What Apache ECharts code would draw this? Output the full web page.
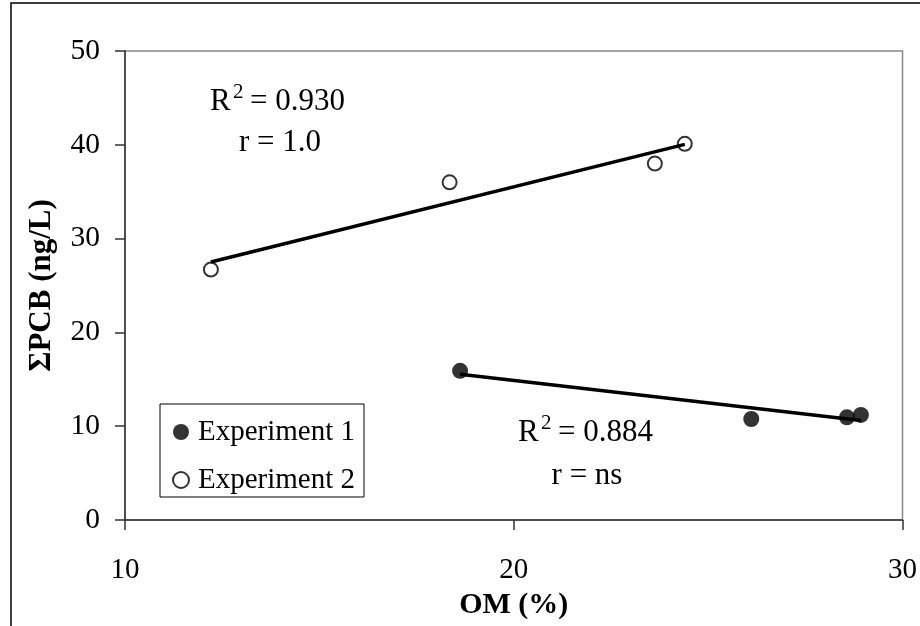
<!DOCTYPE html>
<html>
<head>
<meta charset="utf-8">
<script src="https://cdn.jsdelivr.net/npm/echarts@6/dist/echarts.min.js"></script>
<style>
  html, body { margin: 0; padding: 0; background: #fff; }
  #chart { width: 920px; height: 626px; }
</style>
</head>
<body>
<div id="chart"></div>
<script>
// Organic matter (%) vs total PCB (ng/L) for two experiments
const xTicks = [10, 20, 30];
const yTicks = [0, 10, 20, 30, 40, 50];

const exp1OM  = [18.62, 26.11, 28.57, 28.93];
const exp1PCB = [15.9, 10.77, 10.95, 11.2];

const exp2OM  = [12.21, 18.35, 23.63, 24.40];
const exp2PCB = [26.7, 36.0, 38.0, 40.1];

// Fitted trend lines, start and end points
const trend1OM  = [18.62, 28.93];
const trend1PCB = [15.55, 10.6];
const trend2OM  = [12.21, 24.40];
const trend2PCB = [27.5, 40.05];

const pairs = (xs, ys) => xs.map((x, i) => [x, ys[i]]);

const SERIF = '"Liberation Serif", "Times New Roman", serif';
const axisColor = '#333';

// "R² = value" built from three pieces: base letter, raised 2, and the rest.
// (x, baseline) is where the R starts; text is placed by its vertical middle.
function r2Label(x, baseline, value) {
  const main = 31, sup = 21;
  const mid = s => 0.3375 * s;   // baseline offset below the middle of the em box
  return {
    type: 'group', silent: true,
    children: [
      { type: 'text', x: x, y: baseline - mid(main),
        style: { text: 'R', align: 'left', verticalAlign: 'middle', font: main + 'px ' + SERIF, fill: '#000' } },
      { type: 'text', x: x + 23, y: baseline - 12 - mid(sup),
        style: { text: '2', align: 'left', verticalAlign: 'middle', font: sup + 'px ' + SERIF, fill: '#000' } },
      { type: 'text', x: x + 40, y: baseline - mid(main),
        style: { text: '= ' + value, align: 'left', verticalAlign: 'middle', font: main + 'px ' + SERIF, fill: '#000' } }
    ]
  };
}

const chart = echarts.init(document.getElementById('chart'), null, { renderer: 'canvas' });

chart.setOption({
  backgroundColor: '#fff',
  animation: false,
  textStyle: { fontFamily: SERIF },
  grid: {
    left: 125, right: 15, top: 51, bottom: 106,
    show: true, borderColor: '#888', borderWidth: 1.5
  },
  xAxis: {
    type: 'value',
    min: xTicks[0], max: xTicks[xTicks.length - 1], interval: 10,
    name: 'OM (%)',
    nameLocation: 'middle',
    nameGap: 64,
    nameTextStyle: { fontFamily: SERIF, fontSize: 30, fontWeight: 'bold', color: '#000' },
    axisLine: { show: true, lineStyle: { color: axisColor, width: 1.5 } },
    axisTick: { show: true, inside: false, length: 10, lineStyle: { color: axisColor, width: 1.5 } },
    axisLabel: { margin: 36, fontFamily: SERIF, fontSize: 29, color: '#000' },
    splitLine: { show: false }
  },
  yAxis: {
    type: 'value',
    min: yTicks[0], max: yTicks[yTicks.length - 1], interval: 10,
    name: 'ΣPCB (ng/L)',
    nameLocation: 'middle',
    nameGap: 68,
    nameRotate: 90,
    nameTextStyle: { fontFamily: SERIF, fontSize: 31, fontWeight: 'bold', color: '#000' },
    axisLine: { show: true, lineStyle: { color: axisColor, width: 1.5 } },
    axisTick: { show: true, inside: false, length: 10, lineStyle: { color: axisColor, width: 1.5 } },
    axisLabel: { margin: 25, fontFamily: SERIF, fontSize: 29.5, color: '#000' },
    splitLine: { show: false }
  },
  legend: {
    show: true,
    orient: 'vertical',
    left: 172,
    top: 417,
    itemWidth: 16,
    itemHeight: 16,
    itemGap: 18,
    padding: 0,
    data: ['Experiment 1', 'Experiment 2'],
    textStyle: { fontFamily: SERIF, fontSize: 29, lineHeight: 30, color: '#000', padding: [0, 0, 0, 4] }
  },
  graphic: [
    // outer frame around the figure
    {
      type: 'rect', silent: true, z: -10,
      shape: { x: 11, y: 3, width: 1000, height: 1000 },
      style: { fill: 'transparent', stroke: '#000', lineWidth: 1.5 }
    },
    // legend box
    {
      type: 'rect', silent: true,
      shape: { x: 160, y: 404, width: 204, height: 93 },
      style: { fill: 'transparent', stroke: '#000', lineWidth: 1 }
    },
    r2Label(210, 112, '0.930'),
    {
      type: 'text', silent: true, x: 280, y: 143,
      style: { text: 'r = 1.0', align: 'center', verticalAlign: 'middle', font: '31px ' + SERIF, fill: '#000' }
    },
    r2Label(518, 443, '0.884'),
    {
      type: 'text', silent: true, x: 587, y: 476,
      style: { text: 'r = ns', align: 'center', verticalAlign: 'middle', font: '31px ' + SERIF, fill: '#000' }
    }
  ],
  series: [
    {
      name: 'Experiment 1',
      type: 'scatter',
      data: pairs(exp1OM, exp1PCB),
      symbol: 'circle',
      symbolSize: 16,
      itemStyle: { color: '#000', borderColor: '#000', borderWidth: 0 },
      z: 2
    },
    {
      name: 'Experiment 2',
      type: 'scatter',
      data: pairs(exp2OM, exp2PCB),
      symbol: 'circle',
      symbolSize: 14,
      itemStyle: { color: '#fff', borderColor: '#000', borderWidth: 2 },
      z: 2
    },
    {
      name: 'trend1',
      type: 'line',
      data: pairs(trend1OM, trend1PCB),
      showSymbol: false,
      symbol: 'none',
      silent: true,
      lineStyle: { color: '#000', width: 3.5 },
      z: 3
    },
    {
      name: 'trend2',
      type: 'line',
      data: pairs(trend2OM, trend2PCB),
      showSymbol: false,
      symbol: 'none',
      silent: true,
      lineStyle: { color: '#000', width: 3.5 },
      z: 3
    }
  ]
});
</script>
</body>
</html>
